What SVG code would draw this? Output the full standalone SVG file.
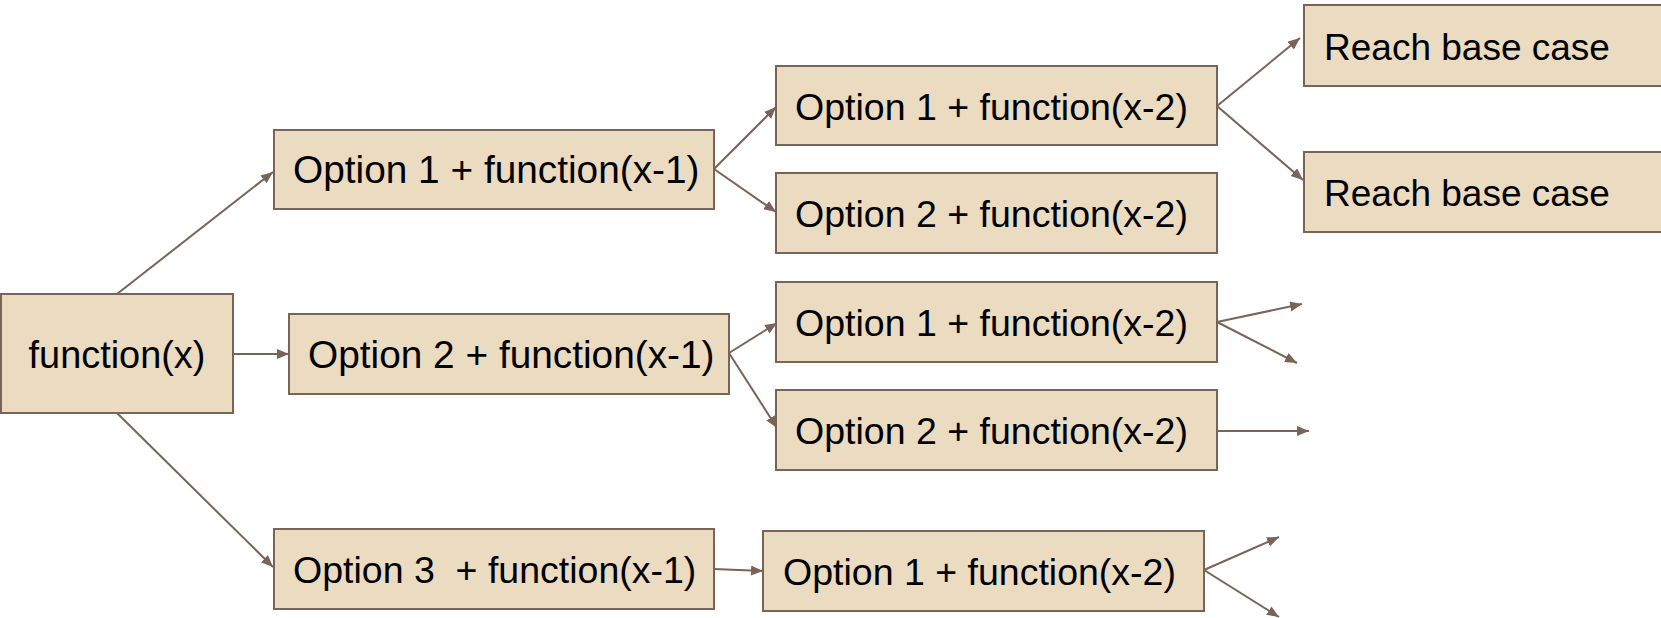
<svg xmlns="http://www.w3.org/2000/svg" width="1661" height="618" viewBox="0 0 1661 618">
  <style>
    .box { fill: #EADBC1; stroke: #7A6357; stroke-width: 2; }
    .lbl { font-family: "Liberation Sans", Arial, sans-serif; font-size: 37px; fill: #000; }
    .root { font-size: 37.9px; text-anchor: middle; }
    .l1 { font-size: 38.8px; }
    .l2 { font-size: 37.5px; }
    .edge { stroke: #7A6357; stroke-width: 2; fill: none; marker-end: url(#arrow); }
  </style>
  <defs>
    <marker id="arrow" markerUnits="userSpaceOnUse" markerWidth="14" markerHeight="12" refX="12" refY="5" orient="auto">
      <path d="M0,0 L12,5 L0,10 z" fill="#7A6357"/>
    </marker>
  </defs>
  <rect width="1661" height="618" fill="#fff"/>

  <!-- connectors -->
  <g id="connectors">
    <line class="edge" x1="117" y1="294" x2="273" y2="172"/>
    <line class="edge" x1="233" y1="354" x2="289" y2="354"/>
    <line class="edge" x1="117" y1="413" x2="273" y2="567"/>
    <line class="edge" x1="714" y1="169" x2="776" y2="107"/>
    <line class="edge" x1="714" y1="169" x2="776" y2="212"/>
    <line class="edge" x1="729" y1="353" x2="777" y2="323"/>
    <line class="edge" x1="729" y1="353" x2="777" y2="428"/>
    <line class="edge" x1="714" y1="569" x2="763" y2="571"/>
    <line class="edge" x1="1217" y1="106" x2="1300" y2="38"/>
    <line class="edge" x1="1217" y1="106" x2="1303" y2="180"/>
    <line class="edge" x1="1217" y1="322" x2="1302" y2="304"/>
    <line class="edge" x1="1217" y1="322" x2="1297" y2="363"/>
    <line class="edge" x1="1217" y1="431" x2="1309" y2="431"/>
    <line class="edge" x1="1204" y1="570" x2="1279" y2="537"/>
    <line class="edge" x1="1204" y1="570" x2="1279" y2="617"/>
  </g>

  <!-- nodes -->
  <g id="root">
    <rect class="box" x="1" y="294" width="232" height="119"/>
    <text class="lbl root" x="117" y="368">function(x)</text>
  </g>
  <g id="opt1-x1">
    <rect class="box" x="274" y="130" width="440" height="79"/>
    <text class="lbl l1" x="293" y="183">Option 1 + function(x-1)</text>
  </g>
  <g id="opt2-x1">
    <rect class="box" x="289" y="314" width="440" height="80"/>
    <text class="lbl l1" x="308" y="368">Option 2 + function(x-1)</text>
  </g>
  <g id="opt3-x1">
    <rect class="box" x="274" y="529" width="440" height="80"/>
    <text class="lbl l2" x="293" y="583" xml:space="preserve">Option 3  + function(x-1)</text>
  </g>
  <g id="a-opt1-x2">
    <rect class="box" x="776" y="66" width="441" height="79"/>
    <text class="lbl l2" x="795" y="120">Option 1 + function(x-2)</text>
  </g>
  <g id="a-opt2-x2">
    <rect class="box" x="776" y="173" width="441" height="80"/>
    <text class="lbl l2" x="795" y="227">Option 2 + function(x-2)</text>
  </g>
  <g id="b-opt1-x2">
    <rect class="box" x="776" y="282" width="441" height="80"/>
    <text class="lbl l2" x="795" y="336">Option 1 + function(x-2)</text>
  </g>
  <g id="b-opt2-x2">
    <rect class="box" x="776" y="390" width="441" height="80"/>
    <text class="lbl l2" x="795" y="444">Option 2 + function(x-2)</text>
  </g>
  <g id="c-opt1-x2">
    <rect class="box" x="763" y="531" width="441" height="80"/>
    <text class="lbl l2" x="783" y="585">Option 1 + function(x-2)</text>
  </g>
  <g id="base-1">
    <rect class="box" x="1304" y="5" width="400" height="81"/>
    <text class="lbl" x="1324" y="60">Reach base case</text>
  </g>
  <g id="base-2">
    <rect class="box" x="1304" y="152" width="400" height="80"/>
    <text class="lbl" x="1324" y="206">Reach base case</text>
  </g>
</svg>
